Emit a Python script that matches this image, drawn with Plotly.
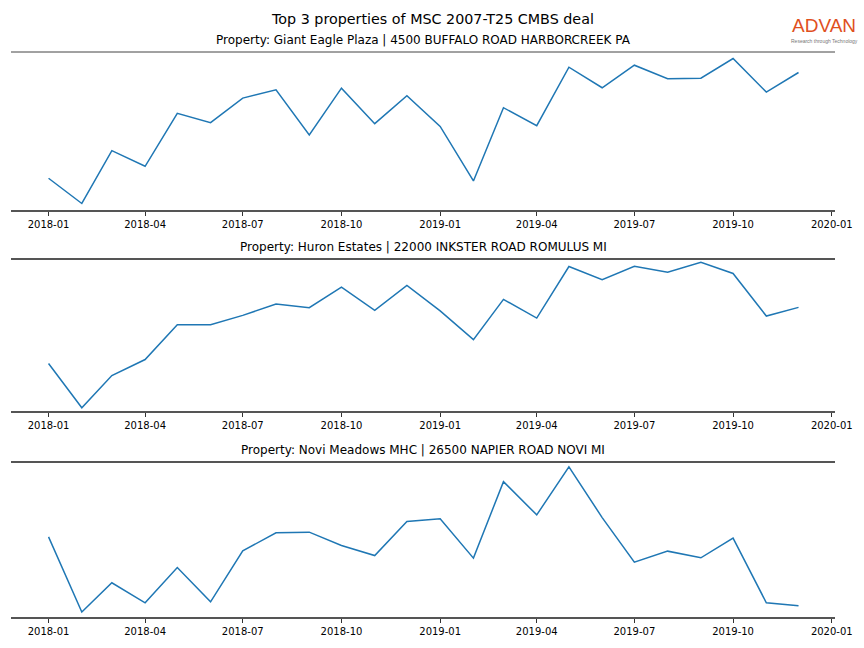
import plotly.graph_objects as go
from plotly.subplots import make_subplots
import pandas as pd

months = pd.date_range("2018-01-01", "2019-12-01", freq="MS").strftime("%Y-%m-%d").tolist()

titles = [
    "Property: Giant Eagle Plaza | 4500 BUFFALO ROAD HARBORCREEK PA",
    "Property: Huron Estates | 22000 INKSTER ROAD ROMULUS MI",
    "Property: Novi Meadows MHC | 26500 NAPIER ROAD NOVI MI",
]

giant_eagle = [32, 6.7, 59.7, 44, 97, 87.7, 112.3, 120.7, 75.3, 122.3, 86.7, 114.7,
               84, 29.3, 102.7, 84.7, 143.3, 122.7, 145.3, 131.7, 132.3, 152, 118.3, 138]
huron = [46.7, 2.3, 34.7, 50.7, 85.7, 85.7, 95, 106.3, 102.7, 123.3, 100, 125,
         99.5, 70.7, 111, 92.3, 144, 130.7, 144.3, 138.3, 148.3, 137, 94.3, 103]
novi = [80, 4.7, 34, 14, 49.3, 15, 66, 84, 84.7, 71.3, 61.3, 95.3,
        98, 58.7, 135.3, 102, 150, 99.3, 54.7, 65.7, 59, 78.7, 14, 11]

series = [giant_eagle, huron, novi]

W, H = 864, 648
L_PX, R_PX = 11, 835
panels_px = [(52, 210), (259, 411), (462, 617)]  # top, bottom of each axes
top_widths = [1, 2, 2]
pads = [0.045, 0.022, 0.034]

fig = make_subplots(rows=3, cols=1)

line_col = "#1f77b4"
spine_col = "#555555"

for i, vals in enumerate(series):
    r = i + 1
    fig.add_trace(go.Scatter(x=months, y=vals, mode="lines",
                             line=dict(color=line_col, width=1.5),
                             showlegend=False, hoverinfo="x+y"), row=r, col=1)
    lo, hi = min(vals), max(vals)
    span = hi - lo
    top, bot = panels_px[i]
    xa = "xaxis" if r == 1 else f"xaxis{r}"
    ya = "yaxis" if r == 1 else f"yaxis{r}"
    fig.layout[xa].update(
        domain=[(L_PX) / W, R_PX / W],
        range=["2017-11-27", "2020-01-04"],
        type="date", tick0="2018-01-01", dtick="M3", tickformat="%Y-%m",
        ticks="outside", ticklen=4, tickwidth=1, tickcolor="#333333",
        showline=True, linecolor=spine_col, linewidth=2,
        showgrid=False, zeroline=False, automargin=False,
        tickfont=dict(family="DejaVu Sans", size=10, color="#000000"),
    )
    fig.layout[ya].update(
        domain=[1 - bot / H, 1 - top / H],
        range=[lo - pads[i] * span, hi + pads[i] * span],
        showticklabels=False, showgrid=False, zeroline=False, ticks="",
        showline=False, automargin=False,
    )
    xref = "x" if r == 1 else f"x{r}"
    yref = "y" if r == 1 else f"y{r}"
    fig.add_shape(type="line", xref=f"{xref} domain", yref=f"{yref} domain",
                  x0=0, x1=1, y0=1, y1=1,
                  line=dict(color=spine_col if top_widths[i] > 1 else "#444444", width=top_widths[i]))
    fig.add_annotation(text=titles[i], xref="paper", yref="paper",
                       x=((L_PX + R_PX) / 2) / W, y=1 - (top - 3) / H,
                       xanchor="center", yanchor="bottom", showarrow=False,
                       font=dict(family="DejaVu Sans", size=12, color="#000000"))

fig.add_annotation(text="Top 3 properties of MSC 2007-T25 CMBS deal", xref="paper", yref="paper",
                   x=432 / W, y=1 - 19 / H, xanchor="center", yanchor="middle", showarrow=False,
                   font=dict(family="DejaVu Sans", size=14.3, color="#000000"))

# logo
fig.add_annotation(text="ADVAN", xref="paper", yref="paper",
                   x=824 / W, y=1 - 26 / H, xanchor="center", yanchor="middle", showarrow=False,
                   font=dict(family="Liberation Sans", size=19, color="#E0501E"))
fig.add_annotation(text="Research through Technology", xref="paper", yref="paper",
                   x=824 / W, y=1 - 40.5 / H, xanchor="center", yanchor="middle", showarrow=False,
                   font=dict(family="Liberation Sans", size=5, color="#777777"))

fig.update_layout(width=W, height=H, margin=dict(l=0, r=0, t=0, b=0, autoexpand=False),
                  paper_bgcolor="white", plot_bgcolor="white")

fig.write_html("out.html", config={"displayModeBar": False},
               post_script="document.body.style.margin='0px';document.body.style.overflow='hidden';")
